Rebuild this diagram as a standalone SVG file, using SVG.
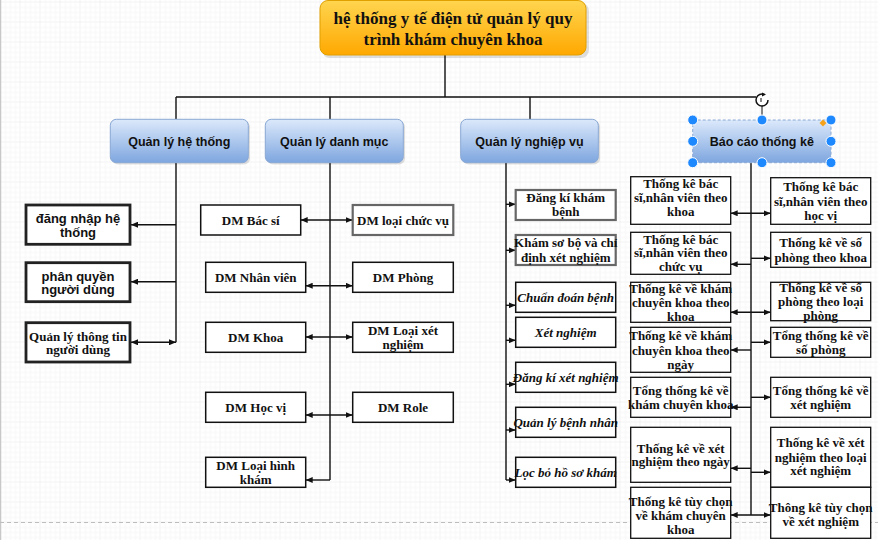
<svg xmlns="http://www.w3.org/2000/svg" width="878" height="540" viewBox="0 0 878 540">
<defs>
<pattern id="grid" x="0.5" y="2.5" width="20" height="20" patternUnits="userSpaceOnUse">
<path d="M20 0V20M0 20H20" fill="none" stroke="#e6e6e6" stroke-width="1"/>
<path d="M5 0V20M10 0V20M15 0V20M0 5H20M0 10H20M0 15H20" fill="none" stroke="#f6f6f6" stroke-width="1"/>
</pattern>
<linearGradient id="gOrange" x1="0" y1="0" x2="0" y2="1">
<stop offset="0" stop-color="#ffd54f"/><stop offset="1" stop-color="#ffa800"/>
</linearGradient>
<linearGradient id="gBlue" x1="0" y1="0" x2="0" y2="1">
<stop offset="0" stop-color="#dce9fb"/><stop offset="1" stop-color="#7ea6df"/>
</linearGradient>
<marker id="ah" markerWidth="8" markerHeight="6" refX="7" refY="3" orient="auto-start-reverse" markerUnits="userSpaceOnUse">
<path d="M0,0 L7,3 L0,6 z" fill="#111"/>
</marker>
<style>
.bg{fill:url(#grid)}
.l1{fill:url(#gBlue);stroke:#8aa8d4;stroke-width:1}
.sh{fill:#000;opacity:0.12}
.bx{fill:#fff;stroke:#111;stroke-width:1.5}
.bxg{fill:#fff;stroke:#666;stroke-width:2.2}
.bxt{fill:#fff;stroke:#222;stroke-width:2.8}
.st{fill:#fff;stroke:#111;stroke-width:1.3}
.ln{fill:none;stroke:#111;stroke-width:1.4}
.ar{fill:none;stroke:#111;stroke-width:1.4;marker-end:url(#ah)}
.ar2{fill:none;stroke:#111;stroke-width:1.4;marker-end:url(#ah);marker-start:url(#ah)}
.tt{font-family:"Liberation Serif",serif;font-weight:bold;font-size:17px;fill:#111;text-anchor:middle}
.tl{font-family:"Liberation Sans",Arial,sans-serif;font-weight:bold;font-size:12.5px;fill:#111;text-anchor:middle}
.ts{font-family:"Liberation Sans",Arial,sans-serif;font-weight:bold;font-size:13px;fill:#111;text-anchor:middle}
.tr{font-family:"Liberation Serif",serif;font-weight:bold;font-size:13px;fill:#111;text-anchor:middle}
.ti{font-family:"Liberation Serif",serif;font-weight:bold;font-style:italic;font-size:13px;fill:#111;text-anchor:middle}
.hd{fill:#1e88ff;stroke:#fff;stroke-width:1}
</style>
</defs>
<rect x="0" y="0" width="878" height="540" fill="#fff"/>
<rect class="bg" x="0" y="0" width="878" height="540"/>
<line x1="0.5" y1="0" x2="0.5" y2="540" stroke="#c8c8c8" stroke-width="1.5"/>
<line x1="0" y1="522.5" x2="878" y2="522.5" stroke="#bdbdbd" stroke-width="1" stroke-dasharray="4,3"/>

<g id="connectors">
<path class="ln" d="M445 55V97M176 97H756M176 97V119M330 97V119M530 97V119"/>
<path class="ln" d="M176 162.7V342.3"/>
<path class="ar" d="M176 224.7H131"/>
<path class="ar" d="M176 281.7H131"/>
<path class="ar2" d="M176 342.3H131"/>
<path class="ln" d="M330 162.7V480"/>
<path class="ar2" d="M300.7 220H352.7"/>
<path class="ar2" d="M305.7 285.7H352.7"/>
<path class="ar2" d="M305.7 337H352.7"/>
<path class="ar2" d="M305.7 415H352.7"/>
<path class="ar" d="M330 480H305.7"/>
<path class="ln" d="M506 162.7V480"/>
<path class="ar" d="M506 204.3H515.7"/>
<path class="ar" d="M506 250.3H515.7"/>
<path class="ar" d="M506 305.3H515.7"/>
<path class="ar" d="M506 340.3H515.7"/>
<path class="ar" d="M506 384.3H515.7"/>
<path class="ar" d="M506 430H515.7"/>
<path class="ar" d="M506 480H515.7"/>
<path class="ln" d="M751 162.7V515"/>
<path class="ar2" d="M730.7 213.3H770.7"/>
<path class="ar" d="M751 264.3H730.7"/>
<path class="ar" d="M751 258.3H770.7"/>
<path class="ar2" d="M730.7 312.3H770.7"/>
<path class="ar" d="M751 350H730.7"/>
<path class="ar" d="M751 342.3H770.7"/>
<path class="ar" d="M751 407.3H730.7"/>
<path class="ar" d="M751 397.3H770.7"/>
<path class="ar" d="M751 468.3H730.7"/>
<path class="ar" d="M751 472.3H770.7"/>
<path class="ar2" d="M730.7 515H770.7"/>
</g>

<g id="title">
<rect class="sh" x="322" y="3" width="267" height="55" rx="8"/>
<rect x="320" y="0.5" width="266" height="54.5" rx="8" fill="url(#gOrange)" stroke="#e0a000" stroke-width="1"/>
<text class="tt" x="453" y="24">hệ thống y tế điện tử quản lý quy</text>
<text class="tt" x="453" y="45">trình khám chuyên khoa</text>
</g>

<g id="ql-he-thong">
<rect class="sh" x="112" y="121" width="138" height="43.5" rx="6"/>
<rect class="l1" x="110.3" y="119.3" width="138" height="43.4" rx="6"/>
<text class="tl" x="179.3" y="145.5">Quản lý hệ thống</text>
</g>
<g id="ql-danh-muc">
<rect class="sh" x="267" y="121" width="138" height="43.5" rx="6"/>
<rect class="l1" x="265.3" y="119.3" width="138" height="43.4" rx="6"/>
<text class="tl" x="334.3" y="145.5">Quản lý danh mục</text>
</g>
<g id="ql-nghiep-vu">
<rect class="sh" x="462.5" y="121" width="137.6" height="43.5" rx="6"/>
<rect class="l1" x="460.7" y="119.3" width="137.6" height="43.4" rx="6"/>
<text class="tl" x="529.5" y="145.5">Quản lý nghiệp vụ</text>
</g>
<g id="bao-cao">
<rect class="l1" x="692.7" y="120" width="138.3" height="42.7" stroke="#5aaaf0" stroke-dasharray="3,2"/>
<text class="tl" x="761.8" y="145.5">Báo cáo thống kê</text>
<line x1="762" y1="106" x2="762" y2="120" stroke="#111" stroke-width="1"/>
<circle cx="762" cy="100" r="6" fill="#fff" stroke="#111" stroke-width="1.5" stroke-dasharray="30,7"/>
<path d="M762 92.5 L766 94.5 L762 96.5 z" fill="#111"/>
<path d="M761 98V102" stroke="#111" stroke-width="1"/>
<circle class="hd" cx="692.7" cy="120" r="5"/>
<circle class="hd" cx="762" cy="120" r="5"/>
<circle class="hd" cx="831" cy="120" r="5"/>
<circle class="hd" cx="692.7" cy="141.3" r="5"/>
<circle class="hd" cx="831" cy="141.3" r="5"/>
<circle class="hd" cx="692.7" cy="162.7" r="5"/>
<circle class="hd" cx="762" cy="162.7" r="5"/>
<circle class="hd" cx="831" cy="162.7" r="5"/>
<path d="M823 119.5 L826.5 123 L823 126.5 L819.5 123 z" fill="#f7a21b"/>
</g>

<g id="dang-nhap">
<rect class="bxt" x="26" y="205" width="104" height="39.3"/>
<text class="ts" x="78" y="223">đăng nhập hệ</text>
<text class="ts" x="78" y="236.5">thống</text>
</g>
<g id="phan-quyen">
<rect class="bxt" x="26" y="262.7" width="104" height="39"/>
<text class="ts" x="78" y="280.5">phân quyền</text>
<text class="ts" x="78" y="294">người dùng</text>
</g>
<g id="ql-thong-tin">
<rect class="bxt" x="26" y="322.7" width="104" height="39.3"/>
<text class="tr" x="78" y="340.5">Quản lý thông tin</text>
<text class="tr" x="78" y="354">người dùng</text>
</g>

<g id="dm-bac-si">
<rect class="bx" x="200.7" y="205" width="100" height="30"/>
<text class="tr" x="250.7" y="224.5">DM Bác sí</text>
</g>
<g id="dm-nhan-vien">
<rect class="bx" x="205.7" y="262.3" width="100" height="30"/>
<text class="tr" x="255.7" y="281.8">DM Nhân viên</text>
</g>
<g id="dm-khoa">
<rect class="bx" x="205.7" y="322.3" width="100" height="30"/>
<text class="tr" x="255.7" y="341.8">DM Khoa</text>
</g>
<g id="dm-hoc-vi">
<rect class="bx" x="205.7" y="392.3" width="100" height="30"/>
<text class="tr" x="255.7" y="411.8">DM Học vị</text>
</g>
<g id="dm-loai-hinh-kham">
<rect class="bx" x="205.7" y="457.3" width="100" height="30"/>
<text class="tr" x="255.7" y="469.5">DM Loại hình</text>
<text class="tr" x="255.7" y="483.5">khám</text>
</g>
<g id="dm-loai-chuc-vu">
<rect class="bxg" x="352.7" y="205" width="100.6" height="30"/>
<text class="tr" x="403" y="224.5">DM loại chức vụ</text>
</g>
<g id="dm-phong">
<rect class="bx" x="352.7" y="262.3" width="100.6" height="30"/>
<text class="tr" x="403" y="281.8">DM Phòng</text>
</g>
<g id="dm-loai-xet-nghiem">
<rect class="bx" x="352.7" y="322.3" width="100.6" height="30"/>
<text class="tr" x="403" y="334.5">DM Loại xét</text>
<text class="tr" x="403" y="348.5">nghiệm</text>
</g>
<g id="dm-role">
<rect class="bx" x="352.7" y="392.3" width="100.6" height="30"/>
<text class="tr" x="403" y="411.8">DM Role</text>
</g>

<g id="dang-ki-kham">
<rect class="bxg" x="515.7" y="190" width="100" height="30"/>
<text class="tr" x="565.7" y="202">Đăng kí khám</text>
<text class="tr" x="565.7" y="216">bệnh</text>
</g>
<g id="kham-so-bo">
<rect class="bxg" x="515.7" y="235" width="100" height="30"/>
<text class="tr" x="565.7" y="247">Khám sơ bộ và chỉ</text>
<text class="tr" x="565.7" y="261.5">định xét nghiệm</text>
</g>
<g id="chuan-doan">
<rect class="bx" x="515.7" y="282.3" width="100" height="30"/>
<text class="ti" x="565.7" y="301.8">Chuẩn đoán bệnh</text>
</g>
<g id="xet-nghiem">
<rect class="bx" x="515.7" y="317.3" width="100" height="30"/>
<text class="ti" x="565.7" y="336.8">Xét nghiệm</text>
</g>
<g id="dang-ki-xet-nghiem">
<rect class="bx" x="515.7" y="362.3" width="100" height="30"/>
<text class="ti" x="565.7" y="381.8">Đăng kí xét nghiệm</text>
</g>
<g id="ql-benh-nhan">
<rect class="bx" x="515.7" y="407.3" width="100" height="30"/>
<text class="ti" x="565.7" y="426.5">Quản lý bệnh nhân</text>
</g>
<g id="loc-bo">
<rect class="bx" x="515.7" y="457.3" width="100" height="30"/>
<text class="ti" x="565.7" y="476.5">Lọc bỏ hồ sơ khám</text>
</g>

<g id="tk-l1">
<rect class="st" x="630.7" y="176.7" width="100" height="47.6"/>
<text class="tr" x="680.7" y="188">Thống kê bác</text>
<text class="tr" x="680.7" y="202">sĩ,nhân viên theo</text>
<text class="tr" x="680.7" y="216">khoa</text>
</g>
<g id="tk-l2">
<rect class="st" x="630.7" y="232.3" width="100" height="42"/>
<text class="tr" x="680.7" y="243.5">Thống kê bác</text>
<text class="tr" x="680.7" y="257">sĩ,nhân viên theo</text>
<text class="tr" x="680.7" y="271">chức vụ</text>
</g>
<g id="tk-l3">
<rect class="st" x="630.7" y="282.3" width="100" height="40"/>
<text class="tr" x="680.7" y="292.8">Thống kê về khám</text>
<text class="tr" x="680.7" y="306.8">chuyên khoa theo</text>
<text class="tr" x="680.7" y="320.5">khoa</text>
</g>
<g id="tk-l4">
<rect class="st" x="630.7" y="327.3" width="100" height="45"/>
<text class="tr" x="680.7" y="340">Thống kê về khám</text>
<text class="tr" x="680.7" y="354.5">chuyên khoa theo</text>
<text class="tr" x="680.7" y="368.5">ngày</text>
</g>
<g id="tk-l5">
<rect class="st" x="630.7" y="377.3" width="100" height="40"/>
<text class="tr" x="680.7" y="394.5">Tổng thống kê về</text>
<text class="tr" x="680.7" y="408.5">khám chuyên khoa</text>
</g>
<g id="tk-l6">
<rect class="st" x="630.7" y="427.3" width="100" height="55"/>
<text class="tr" x="680.7" y="452.8">Thống kê về xét</text>
<text class="tr" x="680.7" y="466.2">nghiệm theo ngày</text>
</g>
<g id="tk-l7">
<rect class="st" x="630.7" y="487.3" width="100" height="51"/>
<text class="tr" x="680.7" y="505.5">Thống kê tùy chọn</text>
<text class="tr" x="680.7" y="519.5">về khám chuyên</text>
<text class="tr" x="680.7" y="533.5">khoa</text>
</g>
<g id="tk-r1">
<rect class="st" x="770.7" y="177.7" width="100" height="46.6"/>
<text class="tr" x="820.7" y="191">Thống kê bác</text>
<text class="tr" x="820.7" y="205.5">sĩ,nhân viên theo</text>
<text class="tr" x="820.7" y="219.5">học vị</text>
</g>
<g id="tk-r2">
<rect class="st" x="770.7" y="232.3" width="100" height="35"/>
<text class="tr" x="820.7" y="247">Thống kê về số</text>
<text class="tr" x="820.7" y="261.5">phòng theo khoa</text>
</g>
<g id="tk-r3">
<rect class="st" x="770.7" y="282.3" width="100" height="38.4"/>
<text class="tr" x="820.7" y="291.8">Thống kê về số</text>
<text class="tr" x="820.7" y="306">phòng theo loại</text>
<text class="tr" x="820.7" y="320">phòng</text>
</g>
<g id="tk-r4">
<rect class="st" x="770.7" y="327.3" width="100" height="30"/>
<text class="tr" x="820.7" y="339.5">Tổng thống kê về</text>
<text class="tr" x="820.7" y="353.5">số phòng</text>
</g>
<g id="tk-r5">
<rect class="st" x="770.7" y="377.3" width="100" height="40"/>
<text class="tr" x="820.7" y="394.5">Tổng thống kê về</text>
<text class="tr" x="820.7" y="408.5">xét nghiệm</text>
</g>
<g id="tk-r6">
<rect class="st" x="770.7" y="427.3" width="100" height="60"/>
<text class="tr" x="820.7" y="446.8">Thống kê về xét</text>
<text class="tr" x="820.7" y="461.8">nghiệm theo loại</text>
<text class="tr" x="820.7" y="475.2">xét nghiệm</text>
</g>
<g id="tk-r7">
<rect class="st" x="770.7" y="487.3" width="100" height="51"/>
<text class="tr" x="820.7" y="512">Thông kê tùy chọn</text>
<text class="tr" x="820.7" y="526">về xét nghiệm</text>
</g>
</svg>
